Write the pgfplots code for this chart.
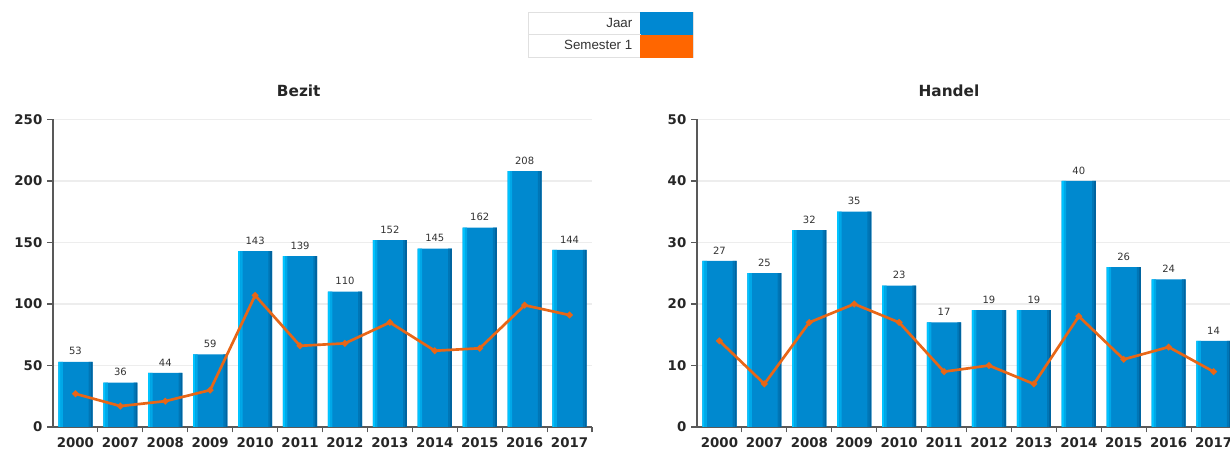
\documentclass[border=0pt]{standalone}
\usepackage{pgfplots}
\pgfplotsset{compat=1.18}
\usepackage{pgfplotstable}
\usepackage{fontspec}
\setmainfont{DejaVu Sans}
\newfontfamily\legfont{Liberation Sans}

\definecolor{barmain}{RGB}{0,137,207}
\definecolor{barlight}{RGB}{0,195,255}
\definecolor{barmid}{RGB}{0,168,232}
\definecolor{bardark}{RGB}{0,100,160}
\definecolor{bardark2}{RGB}{0,118,182}
\definecolor{lineorange}{RGB}{232,102,22}
\definecolor{legblue}{RGB}{0,136,210}
\definecolor{legorange}{RGB}{255,102,0}

% x = category index, jaar = whole year, sem = first semester
\pgfplotstableread{
x jaar sem
0  53  27
1  36  17
2  44  21
3  59  30
4 143 107
5 139  66
6 110  68
7 152  85
8 145  62
9 162  64
10 208 99
11 144 91
}\bezit

\pgfplotstableread{
x jaar sem
0  27 14
1  25  7
2  32 17
3  35 20
4  23 17
5  17  9
6  19 10
7  19  7
8  40 18
9  26 11
10 24 13
11 14  9
}\handel

\pgfplotsset{
  jaarchart/.style={
    scale only axis, width=404.25pt, height=230.625pt,
    anchor=south west,
    xmin=-0.5, xmax=11.5, ymin=0,
    axis lines*=left,
    axis line style={black!65, line width=0.8pt},
    tick style={black!65, line width=0.8pt},
    tick align=outside,
    major tick length=4.5pt, minor tick length=4pt,
    xtick={0,...,11},
    xticklabels={2000,2007,2008,2009,2010,2011,2012,2013,2014,2015,2016,2017},
    every major x tick/.append style={draw=none},
    minor xtick={0.5,1.5,...,11.5},
    ytick pos=left,
    ymajorgrids, grid style={black!7, line width=0.8pt},
    ticklabel style={font=\bfseries\fontsize{10}{12}\selectfont, text=black!85},
    /pgf/number format/assume math mode=true,
    clip=false,
    title style={font=\bfseries\fontsize{11.5}{13}\selectfont, text=black!85, anchor=center, yshift=15.25pt},
  },
  mainbar/.style={ybar, bar width=0.76, bar shift=0, fill=barmain, draw=none, forget plot,
    nodes near coords,
    every node near coord/.append style={font=\fontsize{7.5}{9}\selectfont, text=black!80, yshift=1.5pt}},
  strip/.style={ybar, draw=none, forget plot},
  semline/.style={lineorange, line width=2pt, mark=*, mark size=1.3pt, forget plot},
}

\begin{document}
\begin{tikzpicture}
\useasboundingbox (0,0) rectangle (922.5pt,336.75pt);
\clip (0,0) rectangle (922.5pt,336.75pt);

\begin{axis}[jaarchart, at={(39.75pt,16.5pt)},
  ymax=250, ytick={0,50,...,250},
  title=Bezit, title style={at={(0.456,1)}},
  legend plot pos=right, legend cell align=right,
  legend style={at={(0.881,1.3496)}, anchor=north west, draw=black!12,
    inner sep=0pt, column sep=6pt, row sep=0pt, name=leg,
    font=\legfont\fontsize{10}{12}\selectfont, text=black!80,
    nodes={inner sep=0pt, minimum height=16.5pt}},
]
\addplot[mainbar] table[x=x,y=jaar]{\bezit};
\addplot[strip, bar width=0.05, bar shift=-0.355, fill=barlight] table[x=x,y=jaar]{\bezit};
\addplot[strip, bar width=0.05, bar shift=-0.305, fill=barmid] table[x=x,y=jaar]{\bezit};
\addplot[strip, bar width=0.045, bar shift=0.3575, fill=bardark] table[x=x,y=jaar]{\bezit};
\addplot[strip, bar width=0.04, bar shift=0.315, fill=bardark2] table[x=x,y=jaar]{\bezit};
\addplot[semline] table[x=x,y=sem]{\bezit};
\addlegendimage{legend image code/.code={\fill[legblue] (0pt,-8.25pt) rectangle (39pt,8.25pt);}}
\addlegendentry{Jaar}
\addlegendimage{legend image code/.code={\fill[legorange] (0pt,-8.25pt) rectangle (39pt,8.25pt);}}
\addlegendentry{\hspace*{27pt}Semester 1}
\end{axis}
\draw[black!12, line width=0.6pt] (leg.west) -- ++(84.75pt,0);

\begin{axis}[jaarchart, at={(522.75pt,16.5pt)},
  ymax=50, ytick={0,10,...,50},
  title=Handel, title style={at={(0.4675,1)}},
]
\addplot[mainbar] table[x=x,y=jaar]{\handel};
\addplot[strip, bar width=0.05, bar shift=-0.355, fill=barlight] table[x=x,y=jaar]{\handel};
\addplot[strip, bar width=0.05, bar shift=-0.305, fill=barmid] table[x=x,y=jaar]{\handel};
\addplot[strip, bar width=0.045, bar shift=0.3575, fill=bardark] table[x=x,y=jaar]{\handel};
\addplot[strip, bar width=0.04, bar shift=0.315, fill=bardark2] table[x=x,y=jaar]{\handel};
\addplot[semline] table[x=x,y=sem]{\handel};
\end{axis}
\end{tikzpicture}
\end{document}
